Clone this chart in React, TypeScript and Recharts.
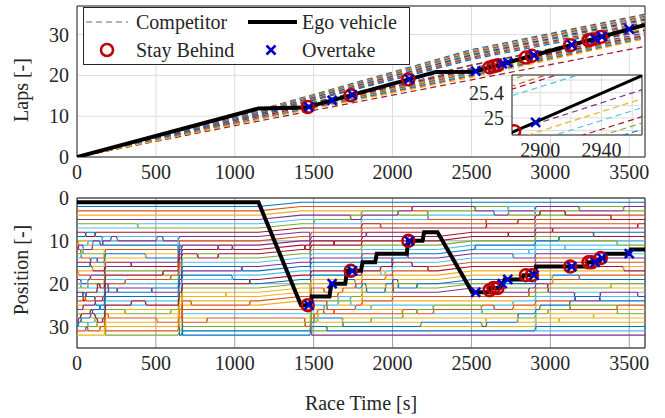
import React from "react";
import {
  CartesianGrid,
  ComposedChart,
  Line,
  ReferenceArea,
  Scatter,
  XAxis,
  YAxis,
} from "recharts";

const SERIF = "Liberation Serif, DejaVu Serif, Tinos, Times New Roman, Times, serif";
const INK = "#262626";
const LINE_COLORS = [
  "#0072BD",
  "#D95319",
  "#EDB120",
  "#7E2F8E",
  "#77AC30",
  "#4DBEEE",
  "#A2142F",
];
const STAY_COLOR = "#C00000";
const OVERTAKE_COLOR = "#0000C8";

const timeTicks = [0, 500, 1000, 1500, 2000, 2500, 3000, 3500];
const lapTicks = [0, 10, 20, 30];
const positionTicks = [0, 10, 20, 30];
const insetTimeTicks = [2900, 2920, 2940, 2960];
const insetLapTicks = [24.8, 25, 25.2, 25.4, 25.6];
const insetTimeDomain = [2881.6, 2966.4];
const insetLapDomain = [24.73, 25.68];

// competitor lap counts read at 1150 s, 2500 s and 3600 s (one entry per car)
const competitorLapsAt1150 = [
  11.5, 11.4, 11.3, 11.2, 11.1, 11.0, 10.9, 10.8, 10.2, 10.7, 10.6, 10.3, 10.1,
  10.15, 9.7, 10.5, 9.95, 10.0, 9.75, 9.9, 9.8, 10.4, 9.6, 9.55, 9.5, 9.45, 9.4,
  8.8, 9.35, 9.3, 9.2,
];
const competitorLapsAt2500 = [
  26.3, 26.0, 25.8, 25.6, 25.4, 25.2, 25.0, 24.8, 22.48, 24.6, 24.4, 22.53,
  22.46, 22.51, 21.3, 24.2, 21.7, 21.8, 21.4, 21.6, 21.5, 23.9, 21.0, 20.8, 20.6,
  20.4, 20.2, 18.9, 20.0, 19.8, 19.5,
];
const competitorLapsAt3600 = [
  35.0, 34.8, 34.6, 34.4, 34.2, 34.0, 33.8, 33.5, 31.2, 33.2, 32.9, 31.4, 30.8,
  31.0, 29.6, 32.6, 30.2, 30.4, 29.7, 30.0, 29.8, 32.2, 29.5, 29.45, 29.4, 29.35,
  29.3, 27.1, 29.2, 29.1, 29.0,
];

const egoLapTime = [0, 1150, 1450, 2275, 2516, 3600];
const egoLapValue = [0, 11.9, 12.1, 20.85, 20.9, 32.38];

const stayTime = [1462, 1735, 2100, 2615, 2640, 2665, 2845, 2883, 3126, 3242, 3262, 3320];
const stayLap = [12.23, 15.12, 19.0, 21.95, 22.21, 22.48, 24.38, 24.79, 27.36, 28.59, 28.8, 29.41];
const stayPos = [25, 17, 10, 21.5, 21, 21, 18, 18, 16, 15, 15, 14];

const overtakeTime = [1470, 1617, 1745, 2106, 2527, 2695, 2730, 2897, 3136, 3284, 3327, 3500];
const overtakeLap = [12.31, 13.87, 15.23, 19.06, 21.02, 22.8, 23.17, 24.93, 27.47, 29.03, 29.49, 31.32];
const overtakePos = [25, 20, 17, 10, 22, 20, 19, 18, 16, 15, 14, 13];

// running order at the start: ego (id 31) on pole, competitors 0..30 behind
const EGO = 31;
const startGrid = [
  31, 0, 1, 2, 3, 4, 5, 6, 7, 8, 9, 10, 11, 12, 13, 14, 15, 16, 17, 18, 19, 20,
  21, 22, 23, 24, 25, 26, 27, 28, 29, 30,
];

// [start s, end s, moves]; a move takes the car at a position ("E" = ego) to a new position
const raceEvents: [number, number, (number | string)[][]][] = [
  [5, 12, [[10, 12], [18, 17], [28, 30]]],
  [20, 30, [[12, 14], [21, 19], [27, 29]]],
  [35, 42, [[13, 11], [22, 24], [26, 25]]],
  [50, 60, [[9, 8], [24, 22], [30, 31]]],
  [65, 72, [[10, 11], [19, 21], [31, 29]]],
  [80, 90, [[16, 14], [26, 28], [18, 19]]],
  [95, 102, [[12, 10], [27, 26], [17, 16]]],
  [110, 120, [[8, 9], [23, 25], [29, 27]]],
  [125, 132, [[14, 15], [22, 20], [30, 28]]],
  [140, 150, [[11, 10], [20, 21], [31, 30], [25, 26]]],
  [158, 166, [[9, 11], [24, 23], [28, 29]]],
  [172, 182, [[12, 32], [12, 32], [17, 31]]],
  [195, 202, [[20, 22], [27, 28]]],
  [210, 220, [[9, 10]]],
  [250, 260, [[10, 9], [22, 21]]],
  [300, 310, [[19, 20], [27, 26]]],
  [340, 348, [[15, 16], [25, 24]]],
  [380, 390, [[6, 7]]],
  [430, 440, [[24, 25], [14, 13]]],
  [470, 478, [[21, 22]]],
  [500, 510, [[9, 10], [29, 28]]],
  [540, 550, [[10, 9], [17, 18]]],
  [590, 598, [[18, 19], [26, 27]]],
  [640, 650, [[9, 31], [10, 32], [11, 30]]],
  [660, 670, [[11, 32], [14, 29]]],
  [720, 728, [[25, 24]]],
  [760, 770, [[13, 14]]],
  [820, 828, [[28, 29]]],
  [890, 900, [[14, 13], [11, 12]]],
  [940, 948, [[22, 23]]],
  [980, 990, [[12, 11], [19, 18]]],
  [1040, 1050, [[16, 17]]],
  [1090, 1100, [[20, 19], [24, 25]]],
  [1150, 1420, [["E", 25]]],
  [1440, 1450, [[28, 30], [12, 11]]],
  [1475, 1488, [[8, 32], [19, 31]]],
  [1500, 1508, [[5, 6], [27, 29]]],
  [1520, 1530, [[26, 28], [29, 27]]],
  [1560, 1570, [[21, 22], [27, 25]]],
  [1580, 1588, [[24, 26], [30, 31]]],
  [1600, 1612, [["E", 20]]],
  [1625, 1633, [[26, 27], [10, 11]]],
  [1650, 1660, [[22, 24], [25, 23]]],
  [1680, 1688, [[28, 30], [22, 21]]],
  [1700, 1712, [["E", 17]]],
  [1730, 1738, [[4, 5], [23, 25]]],
  [1760, 1770, [[19, 21], [26, 25]]],
  [1800, 1810, [[3, 25], ["E", 15]]],
  [1830, 1838, [[20, 22], [8, 9]]],
  [1860, 1868, [[25, 26], [29, 28]]],
  [1890, 1900, [["E", 13]]],
  [1920, 1928, [[16, 18], [6, 7]]],
  [1950, 1960, [[17, 19], [22, 20]]],
  [1995, 2005, [[14, 22], [24, 23]]],
  [2030, 2040, [[3, 4], [19, 21]]],
  [2060, 2068, [[26, 28]]],
  [2090, 2100, [[9, 14], ["E", 10]]],
  [2120, 2128, [[2, 3], [15, 16]]],
  [2150, 2160, [[20, 21], [27, 26]]],
  [2175, 2183, [[29, 30]]],
  [2190, 2200, [["E", 8]]],
  [2220, 2228, [[3, 5], [17, 16]]],
  [2255, 2263, [[25, 27]]],
  [2285, 2505, [["E", 22]]],
  [2520, 2528, [[3, 2], [12, 11]]],
  [2560, 2570, [[25, 27], [30, 29]]],
  [2590, 2598, [[5, 7], [28, 30]]],
  [2610, 2620, [["E", 21]]],
  [2640, 2648, [[4, 3], [25, 26]]],
  [2680, 2690, [["E", 20]]],
  [2700, 2710, [["E", 19]]],
  [2730, 2738, [[2, 4], [9, 8]]],
  [2760, 2770, [[13, 14], [24, 26]]],
  [2790, 2798, [[6, 5], [29, 27]]],
  [2820, 2830, [["E", 18]]],
  [2860, 2868, [[12, 13], [21, 23]]],
  [2900, 2910, [[2, 31], ["E", 16]]],
  [2930, 2938, [[3, 4], [25, 26]]],
  [2980, 2990, [[20, 22], [27, 26]]],
  [3010, 3018, [[7, 8], [18, 20]]],
  [3050, 3060, [[9, 10], [28, 29]]],
  [3090, 3098, [[4, 3], [11, 12]]],
  [3120, 3128, [[24, 26]]],
  [3150, 3160, [[22, 24]]],
  [3180, 3188, [[2, 3], [19, 18]]],
  [3230, 3240, [["E", 15]]],
  [3270, 3278, [[8, 9], [27, 28]]],
  [3310, 3320, [["E", 14], [24, 22]]],
  [3340, 3350, [["E", 13]]],
  [3380, 3388, [[5, 4], [20, 21]]],
  [3420, 3428, [[10, 11], [25, 27]]],
  [3460, 3468, [[3, 2], [16, 17]]],
  [3500, 3510, [["E", 12]]],
  [3550, 3558, [[6, 7], [22, 23]]],
];

type Pt = { x: number; y: number };

function buildTracks(): Pt[][] {
  const order = startGrid.slice();
  const tracks: Pt[][] = startGrid.map(() => []);
  order.forEach((car, i) => tracks[car].push({ x: 0, y: i + 1 }));
  for (const [t0, t1, moves] of raceEvents) {
    const before = order.slice();
    for (const [from, to] of moves) {
      const idx = from === "E" ? order.indexOf(EGO) : (from as number) - 1;
      const [car] = order.splice(idx, 1);
      order.splice((to as number) - 1, 0, car);
    }
    order.forEach((car, i) => {
      const old = before.indexOf(car);
      if (old !== i) {
        tracks[car].push({ x: t0, y: old + 1 }, { x: t1, y: i + 1 });
      }
    });
  }
  order.forEach((car, i) => tracks[car].push({ x: 3600, y: i + 1 }));
  return tracks;
}

const tracks = buildTracks();
const competitorLapData: Pt[][] = competitorLapsAt3600.map((laps, i) => [
  { x: 0, y: 0 },
  { x: 1150, y: competitorLapsAt1150[i] },
  { x: 2500, y: competitorLapsAt2500[i] },
  { x: 3600, y: laps },
]);
const egoLapData: Pt[] = egoLapTime.map((x, i) => ({ x, y: egoLapValue[i] }));
const stayLapPts: Pt[] = stayTime.map((x, i) => ({ x, y: stayLap[i] }));
const stayPosPts: Pt[] = stayTime.map((x, i) => ({ x, y: stayPos[i] }));
const overLapPts: Pt[] = overtakeTime.map((x, i) => ({ x, y: overtakeLap[i] }));
const overPosPts: Pt[] = overtakeTime.map((x, i) => ({ x, y: overtakePos[i] }));
const inInset = (p: Pt) => p.x >= insetTimeDomain[0] && p.x <= insetTimeDomain[1];

const tickStyle = { fontSize: 20, fontFamily: SERIF, fill: INK };

function Ring(props: any) {
  const { cx, cy } = props;
  return <circle cx={cx} cy={cy} r={6} fill="none" stroke={STAY_COLOR} strokeWidth={2.5} />;
}

function Cross(props: any) {
  const { cx, cy } = props;
  const s = 4.5;
  return (
    <path
      d={`M${cx - s},${cy - s}L${cx + s},${cy + s}M${cx - s},${cy + s}L${cx + s},${cy - s}`}
      stroke={OVERTAKE_COLOR}
      strokeWidth={2.5}
      fill="none"
    />
  );
}

function competitorLaps() {
  return competitorLapData.map((d, i) => (
    <Line
      key={i}
      data={d}
      dataKey="y"
      stroke={LINE_COLORS[i % LINE_COLORS.length]}
      strokeWidth={1.2}
      strokeDasharray="6 4"
      dot={false}
      isAnimationActive={false}
    />
  ));
}

function LapsChart() {
  return (
    <ComposedChart width={665} height={190} margin={{ top: 6, right: 20, left: 0, bottom: 0 }}>
      <CartesianGrid stroke="#dcdcdc" />
      <XAxis
        type="number"
        dataKey="x"
        domain={[0, 3600]}
        ticks={timeTicks}
        interval={0}
        tickLine={false}
        axisLine={false}
        tick={tickStyle}
        height={33}
        allowDataOverflow
      />
      <YAxis
        type="number"
        dataKey="y"
        domain={[0, 37]}
        ticks={lapTicks}
        interval={0}
        tickLine={false}
        axisLine={false}
        tick={tickStyle}
        width={77}
        allowDataOverflow
      />
      {competitorLaps()}
      <Line data={egoLapData} dataKey="y" stroke="#000" strokeWidth={4} dot={false} isAnimationActive={false} />
      <Scatter data={stayLapPts} dataKey="y" shape={Ring} isAnimationActive={false} />
      <Scatter data={overLapPts} dataKey="y" shape={Cross} isAnimationActive={false} />
      <ReferenceArea x1={0} x2={3600} y1={0} y2={37} fill="none" stroke={INK} strokeWidth={1} />
    </ComposedChart>
  );
}

function InsetChart() {
  return (
    <ComposedChart width={665} height={175} margin={{ top: 75, right: 23, left: 0, bottom: 0 }}>
      <CartesianGrid stroke="#dcdcdc" />
      <XAxis
        type="number"
        dataKey="x"
        domain={insetTimeDomain}
        ticks={insetTimeTicks}
        interval={0}
        tickFormatter={(v: number) => (v === 2900 || v === 2940 ? String(v) : "")}
        tickLine={false}
        axisLine={false}
        tick={tickStyle}
        height={40}
        allowDataOverflow
      />
      <YAxis
        type="number"
        dataKey="y"
        domain={insetLapDomain}
        ticks={insetLapTicks}
        interval={0}
        tickFormatter={(v: number) => (v === 25 ? "25" : v === 25.4 ? "25.4" : "")}
        tickLine={false}
        axisLine={false}
        tick={tickStyle}
        width={512}
        allowDataOverflow
      />
      {competitorLaps()}
      <Line data={egoLapData} dataKey="y" stroke="#000" strokeWidth={3} dot={false} isAnimationActive={false} />
      <Scatter data={stayLapPts.filter(inInset)} dataKey="y" shape={Ring} isAnimationActive={false} />
      <Scatter data={overLapPts.filter(inInset)} dataKey="y" shape={Cross} isAnimationActive={false} />
      <ReferenceArea
        x1={insetTimeDomain[0]}
        x2={insetTimeDomain[1]}
        y1={insetLapDomain[0]}
        y2={insetLapDomain[1]}
        fill="none"
        stroke={INK}
        strokeWidth={1}
      />
    </ComposedChart>
  );
}

function PositionChart() {
  return (
    <ComposedChart width={665} height={210} margin={{ top: 18, right: 20, left: 0, bottom: 0 }}>
      <CartesianGrid stroke="#a0a0a0" />
      <XAxis
        type="number"
        dataKey="x"
        domain={[0, 3600]}
        ticks={timeTicks}
        interval={0}
        tickLine={false}
        axisLine={false}
        tick={tickStyle}
        height={42}
        allowDataOverflow
      />
      <YAxis
        type="number"
        dataKey="y"
        domain={[0, 35]}
        reversed
        ticks={positionTicks}
        interval={0}
        tickLine={false}
        axisLine={false}
        tick={tickStyle}
        width={77}
        allowDataOverflow
      />
      {tracks.map((d, car) =>
        car === EGO ? null : (
          <Line
            key={car}
            data={d}
            dataKey="y"
            stroke={LINE_COLORS[car % LINE_COLORS.length]}
            strokeWidth={1.1}
            dot={false}
            isAnimationActive={false}
          />
        )
      )}
      <Line data={tracks[EGO]} dataKey="y" stroke="#000" strokeWidth={4} dot={false} isAnimationActive={false} />
      <Scatter data={stayPosPts} dataKey="y" shape={Ring} isAnimationActive={false} />
      <Scatter data={overPosPts} dataKey="y" shape={Cross} isAnimationActive={false} />
      <ReferenceArea x1={0} x2={3600} y1={0} y2={35} fill="none" stroke={INK} strokeWidth={1} />
    </ComposedChart>
  );
}

function LegendBox() {
  return (
    <svg
      width={328}
      height={59}
      style={{ position: "absolute", left: 83, top: 7 }}
      fontFamily={SERIF}
      fontSize={20}
      fill={INK}
    >
      <rect x={0.5} y={0.5} width={326} height={57} fill="#fff" stroke={INK} strokeWidth={1} />
      <line x1={3} x2={45} y1={15} y2={15} stroke="#9a9a9a" strokeWidth={1.3} strokeDasharray="6 4" />
      <text x={53} y={22}>Competitor</text>
      <line x1={165} x2={214} y1={15} y2={15} stroke="#000" strokeWidth={4} />
      <text x={219} y={22}>Ego vehicle</text>
      <Ring cx={24} cy={43} />
      <text x={53} y={50}>Stay Behind</text>
      <Cross cx={188} cy={43} />
      <text x={219} y={50}>Overtake</text>
    </svg>
  );
}

export default function App() {
  return (
    <div
      style={{
        position: "absolute",
        left: 0,
        top: 0,
        width: 665,
        height: 418,
        background: "#fff",
        overflow: "hidden",
        fontFamily: SERIF,
      }}
    >
      <div style={{ position: "absolute", left: 0, top: 0 }}>
        <LapsChart />
      </div>
      <div style={{ position: "absolute", left: 512, top: 75, width: 130, height: 60, background: "#fff" }} />
      <div style={{ position: "absolute", left: 0, top: 0 }}>
        <InsetChart />
      </div>
      <LegendBox />
      <div style={{ position: "absolute", left: 0, top: 180 }}>
        <PositionChart />
      </div>
      <svg
        width={665}
        height={418}
        style={{ position: "absolute", left: 0, top: 0, pointerEvents: "none" }}
        fontFamily={SERIF}
        fontSize={20}
        fill={INK}
      >
        <text transform="translate(28,90) rotate(-90)" textAnchor="middle">
          Laps [-]
        </text>
        <text transform="translate(28,270) rotate(-90)" textAnchor="middle">
          Position [-]
        </text>
        <text x={361} y={410} textAnchor="middle">
          Race Time [s]
        </text>
      </svg>
    </div>
  );
}
